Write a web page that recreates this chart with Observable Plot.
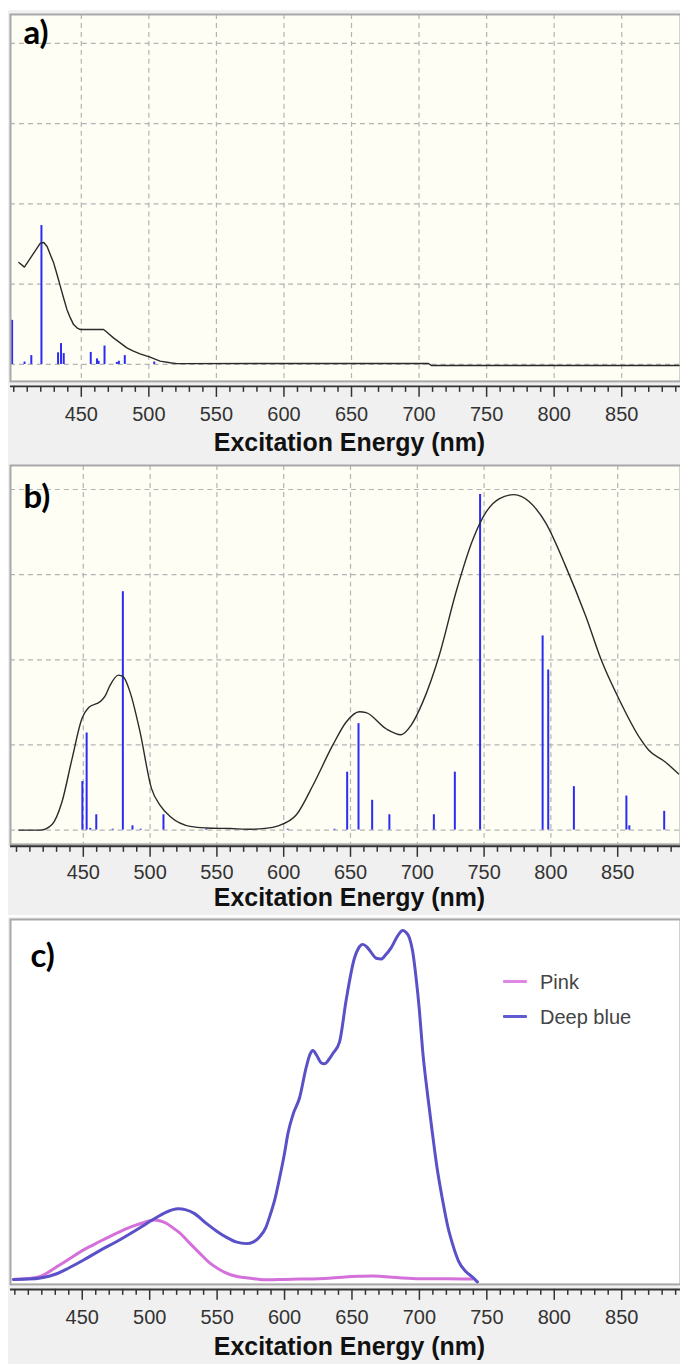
<!DOCTYPE html>
<html><head><meta charset="utf-8">
<script src="https://cdn.jsdelivr.net/npm/d3@7"></script>
<script src="https://cdn.jsdelivr.net/npm/@observablehq/plot@0.6"></script>
<style>
html,body{margin:0;padding:0;background:#fff;width:680px;height:1368px;overflow:hidden;}
.panel{position:relative;margin-left:8px;width:672px;overflow:hidden;background:#f0f0f0;}
#pa{margin-top:10px;}
#pc{margin-top:2px;}
.panel svg{display:block;}
.lg-sw{position:absolute;width:24px;height:3px;border-radius:1px;}
.lg-tx{position:absolute;font:20px "Liberation Sans",Arial,sans-serif;line-height:20px;color:#444;white-space:nowrap;}
</style></head><body>
<div id="pa" class="panel"></div>
<div id="pb" class="panel"></div>
<div id="pc" class="panel">
  <div class="lg-sw" style="left:495px;top:63px;background:#de86e4;"></div>
  <div class="lg-tx" style="left:532px;top:55px;">Pink</div>
  <div class="lg-sw" style="left:495px;top:98px;background:#625ad0;"></div>
  <div class="lg-tx" style="left:532px;top:90px;">Deep blue</div>
</div>
<script>
// ---------- tick labels ----------
const majorTicks = [450, 500, 550, 600, 650, 700, 750, 800, 850];
const minorTicks = [400, 410, 420, 430, 440, 460, 470, 480, 490, 510, 520, 530, 540, 560, 570, 580, 590, 610, 620, 630, 640, 660, 670, 680, 690, 710, 720, 730, 740, 760, 770, 780, 790, 810, 820, 830, 840, 860, 870, 880, 890];
const gridLevels = [0, 1, 2, 3, 4];
const axisTitle = "Excitation Energy (nm)";
const panelLetters = ["a)", "b)", "c)"];
const legendNames = ["Pink", "Deep blue"];

// ---------- panel a ----------
const aCurveNm = [403.8, 407.9, 419.7, 422.2, 424.7, 427.1, 429.6, 432.1, 434.5, 436.9, 439.4, 441.9, 444.3, 446.8, 449.3, 466.5, 469.0, 473.8, 478.8, 483.7, 488.6, 493.5, 500.9, 508.3, 515.7, 520.6, 600, 707, 709, 893];
const aCurveY  = [1.271, 1.213, 1.511, 1.519, 1.470, 1.366, 1.263, 1.118, 0.973, 0.828, 0.683, 0.580, 0.497, 0.456, 0.435, 0.435, 0.401, 0.331, 0.269, 0.207, 0.166, 0.133, 0.091, 0.041, 0.021, 0.010, 0.012, 0.012, -0.012, -0.012];
const aStickNm = [398.8, 408.0, 413.0, 420.5, 432.8, 435.0, 437.0, 457.0, 461.6, 462.8, 467.2, 476.3, 477.8, 482.2, 504.0];
const aStickF  = [0.55, 0.03, 0.11, 1.73, 0.145, 0.26, 0.135, 0.15, 0.07, 0.04, 0.23, 0.025, 0.04, 0.11, 0.03];

// ---------- panel b ----------
const bCurveNm = [401.7, 418, 426.6, 434, 441.6, 449, 454, 462.7, 466.5, 470, 476.3, 480, 485, 492.5, 501, 507.5, 515, 531, 542, 560, 575, 586, 595.7, 609.5, 622, 636.8, 646.8, 656.7, 661.7, 676.6, 687.8, 695.3, 704, 716.4, 728.9, 741.3, 751.3, 761.2, 772.4, 783.6, 796, 811, 825.9, 838.4, 850.9, 867, 873.1, 885.6, 895.5];
const bCurveY  = [0, 0, 0.066, 0.33, 0.84, 1.31, 1.44, 1.51, 1.58, 1.70, 1.82, 1.80, 1.62, 1.15, 0.49, 0.29, 0.16, 0.04, 0.025, 0.018, 0.01, 0.02, 0.05, 0.18, 0.53, 1.0, 1.27, 1.39, 1.38, 1.19, 1.12, 1.23, 1.50, 2.05, 2.79, 3.40, 3.73, 3.89, 3.94, 3.86, 3.61, 3.10, 2.52, 1.97, 1.54, 1.07, 0.94, 0.80, 0.66];
const bStickNm = [449.3, 452.5, 455.2, 459.7, 472, 479.6, 486.8, 493, 510, 542, 603, 638, 647.5, 656, 666.2, 679.1, 712.4, 728.1, 747, 793.8, 798, 817.2, 856.5, 858.7, 884.8];
const bStickF  = [0.57, 1.14, 0.02, 0.18, 0.01, 2.80, 0.05, 0.01, 0.18, 0.01, 0.01, 0.01, 0.68, 1.25, 0.35, 0.18, 0.18, 0.68, 3.94, 2.28, 1.88, 0.51, 0.40, 0.05, 0.22];

// ---------- panel c ----------
const cPinkNm = [399, 410, 419, 425, 431.3, 440, 451, 463, 475.6, 486, 495.3, 500, 504, 508, 512.6, 517, 522.5, 530, 537.2, 544, 552, 559, 566.8, 576, 586.5, 600, 611.2, 625, 635, 645, 655, 665, 675, 685, 700, 720, 739.3];
const cPinkY  = [-0.003, 0.0, 0.006, 0.018, 0.034, 0.055, 0.082, 0.106, 0.13, 0.148, 0.16, 0.166, 0.168, 0.165, 0.158, 0.146, 0.13, 0.1, 0.072, 0.046, 0.025, 0.012, 0.004, 0.0, -0.004, -0.003, -0.002, -0.001, 0.001, 0.004, 0.006, 0.007, 0.005, 0.002, -0.001, -0.001, -0.002];
const cBlueNm = [399, 410, 420, 430, 440, 451, 463, 475.6, 487, 497.8, 505, 512, 521, 527, 533, 542, 550, 557, 564, 571.8, 577, 581.6, 586, 589, 593, 596.4, 600, 602.5, 606.2, 611.2, 616.1, 619, 621, 624, 627, 629.7, 633, 635.8, 640.8, 645.7, 651.8, 655, 658, 661, 664.2, 668, 671.6, 675, 679, 684, 687.6, 690, 692.5, 695, 697.5, 700, 702.4, 706, 709.7, 713, 717.2, 721, 724.5, 729, 734.4, 739, 743];
const cBlueY  = [-0.003, -0.002, 0.002, 0.012, 0.03, 0.053, 0.08, 0.106, 0.132, 0.158, 0.175, 0.19, 0.2, 0.197, 0.187, 0.158, 0.135, 0.118, 0.105, 0.10, 0.105, 0.12, 0.145, 0.178, 0.23, 0.29, 0.36, 0.416, 0.47, 0.52, 0.607, 0.645, 0.655, 0.64, 0.62, 0.617, 0.63, 0.646, 0.68, 0.80, 0.92, 0.95, 0.96, 0.953, 0.937, 0.92, 0.918, 0.93, 0.95, 0.985, 1.0, 0.995, 0.98, 0.94, 0.865, 0.77, 0.655, 0.53, 0.416, 0.32, 0.225, 0.15, 0.10, 0.05, 0.02, 0.005, -0.01];

// ---------- helpers ----------
const zip = (xs, ys) => xs.map((x, i) => ({nm: x, v: ys[i]}));
const FONT = '"Liberation Sans", Arial, sans-serif';

function panel(cfg) {
  const grid = cfg.grid;
  const ib = cfg.insetBottom;
  return Plot.plot({
    width: 674, height: cfg.height,
    marginTop: cfg.marginTop, marginBottom: cfg.marginBottom, marginLeft: 2, marginRight: 0,
    x: {domain: cfg.xDomain},
    y: {domain: cfg.yDomain, axis: null},
    style: {background: "transparent", fontFamily: FONT, color: "#333"},
    marks: [
      Plot.frame({fill: cfg.bg, stroke: null, insetBottom: ib}),
      grid ? Plot.gridX(majorTicks, {stroke: "#b4b4b4", strokeOpacity: 1, strokeWidth: 1.2, strokeDasharray: "5,4", insetBottom: ib}) : null,
      grid ? Plot.gridY(gridLevels, {stroke: "#b4b4b4", strokeOpacity: 1, strokeWidth: 1.2, strokeDasharray: "5,4"}) : null,
      ...cfg.marks,
      Plot.frame({stroke: "#a8a8a8", strokeWidth: 2, insetBottom: ib}),
      Plot.ruleY([cfg.yDomain[0]], {stroke: "#333", strokeWidth: 2}),
      Plot.axisX(minorTicks, {tickSize: 6, tickFormat: () => "", stroke: "#333", strokeWidth: 1.5, label: null}),
      Plot.axisX(majorTicks, {tickSize: 11, tickPadding: cfg.tickPadding, fontSize: 20, stroke: "#333", strokeWidth: 1.5, color: "#333", label: null}),
      Plot.text([axisTitle], {text: d => d, frameAnchor: "bottom", lineAnchor: "top", dx: 4, dy: cfg.titleDy, fontSize: 25, fontWeight: "bold", fill: "#111", fontFamily: FONT}),
      Plot.text([cfg.letter], {text: d => d, frameAnchor: "top-left", textAnchor: "start", lineAnchor: "top", dx: cfg.letterDx, dy: cfg.letterDy, fontSize: 33, fontWeight: "bold", fill: "#000", fontFamily: "Lato, 'Open Sans', sans-serif"})
    ]
  });
}

// panel a
document.getElementById("pa").append(panel({
  height: 452, marginTop: 4, marginBottom: 75, insetBottom: 5,
  xDomain: [397.6, 893.5], yDomain: [-0.273, 4.360],
  bg: "#fefef5", grid: true, tickPadding: 9.5, titleDy: 47.25,
  letter: panelLetters[0], letterDx: 13, letterDy: 6.6,
  marks: [
    Plot.ruleX(zip(aStickNm, aStickF), {x: "nm", y1: 0, y2: "v", stroke: "#2b2bf2", strokeWidth: 2}),
    Plot.line(zip(aCurveNm, aCurveY), {x: "nm", y: "v", stroke: "#2a2a2a", strokeWidth: 1.4})
  ]
}));

// panel b
document.getElementById("pb").append(panel({
  height: 456, marginTop: 4, marginBottom: 70, insetBottom: 2,
  xDomain: [395.5, 897], yDomain: [-0.191, 4.282],
  bg: "#fefef5", grid: true, tickPadding: 7.8, titleDy: 42.25,
  letter: panelLetters[1], letterDx: 13, letterDy: 19.6,
  marks: [
    Plot.ruleX(zip(bStickNm, bStickF), {x: "nm", y1: 0, y2: "v", stroke: "#2b2bf2", strokeWidth: 2}),
    Plot.line(zip(bCurveNm, bCurveY), {x: "nm", y: "v", stroke: "#2a2a2a", strokeWidth: 1.4, curve: "monotone-x"})
  ]
}));

// panel c
document.getElementById("pc").prepend(panel({
  height: 448, marginTop: 2, marginBottom: 75, insetBottom: 5,
  xDomain: [396.8, 893.6], yDomain: [-0.0315, 1.0315],
  bg: "#ffffff", grid: false, tickPadding: 9.8, titleDy: 48.25,
  letter: panelLetters[2], letterDx: 20, letterDy: 24.6,
  marks: [
    Plot.line(zip(cPinkNm, cPinkY), {x: "nm", y: "v", stroke: "#d470da", strokeWidth: 3, curve: "monotone-x", title: () => legendNames[0]}),
    Plot.line(zip(cBlueNm, cBlueY), {x: "nm", y: "v", stroke: "#5a50c8", strokeWidth: 3, curve: "monotone-x", title: () => legendNames[1]})
  ]
}));
</script>
</body></html>
